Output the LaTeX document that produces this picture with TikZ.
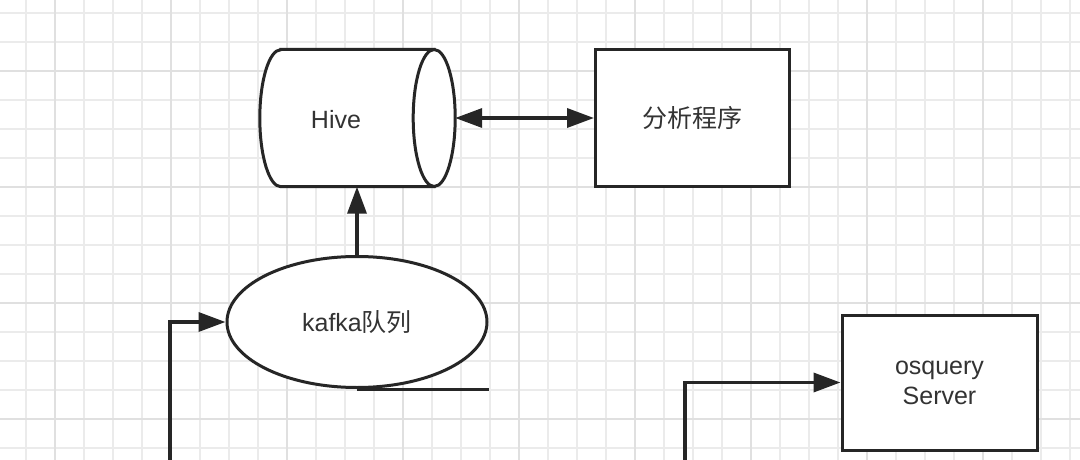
\documentclass[tikz,border=0pt]{standalone}
\usepackage{fontspec}
\setmainfont{Liberation Sans}
\newfontfamily\cjk{Noto Sans CJK SC}
\usepackage{tikz}
\usetikzlibrary{arrows.meta, shapes.geometric, positioning}

\begin{document}
\begin{tikzpicture}[x=1pt, y=-1pt,
    every node/.style={font=\fontsize{25}{30}\selectfont, text=black!80},
    shape line/.style={draw=black!85, line width=3pt, fill=white, inner sep=0pt},
    box/.style={shape line, rectangle, minimum width=194pt, minimum height=136pt},
    arr/.style={draw=black!85, line width=3.5pt, -{Triangle[length=27pt, width=19pt]}},
    darr/.style={draw=black!85, line width=3.5pt, {Triangle[length=27pt, width=19pt]}-{Triangle[length=27pt, width=19pt]}},
    minor/.style={line width=1.2pt, black!8},
    major/.style={line width=1.2pt, black!12}]
    \useasboundingbox (0,0) rectangle (1080,460);
    \fill[white] (0,0) rectangle (1080,460);
    \foreach \i in {0,...,36}
        \draw[minor] ({26+29*\i},0) -- ({26+29*\i},460);
    \foreach \i in {0,...,15}
        \draw[minor] (0,{13+29*\i}) -- (1080,{13+29*\i});
    \foreach \i in {0,...,8}
        \draw[major] ({55+116*\i},0) -- ({55+116*\i},460);
    \foreach \i in {0,...,3}
        \draw[major] (0,{71+116*\i}) -- (1080,{71+116*\i});

    \node[minimum width=195pt, minimum height=137pt, inner sep=0pt] (hive) at (357.5,118) {};
    \draw[shape line] ([xshift=21pt]hive.north west) -- ([xshift=-21pt]hive.north east)
        -- ([xshift=-21pt]hive.south east) -- ([xshift=21pt]hive.south west)
        arc[start angle=90, end angle=270, x radius=21, y radius=68.5] -- cycle;
    \draw[shape line] ([xshift=-21pt]hive.east) ellipse[x radius=21, y radius=68.5];
    \node (hivetext) at (336,120) {Hive};
    \node[box] (prog) at (692.5,118) {\cjk 分析程序};
    \node[shape line, ellipse, minimum width=260pt, minimum height=131pt] (kafka) at (357,322) {kafka{\cjk 队列}};
    \node[box, align=center, minimum width=195pt, minimum height=135pt] (osq) at (939.5,382.5) {osquery\\Server};
    \coordinate (in1) at (170,462);
    \coordinate (in2) at (685,462);

    \draw[darr] (hive) -- (prog);
    \draw[arr] (kafka.north) -- (kafka.north |- hive.south);
    \draw[draw=black!85, line width=3pt] (kafka.south) -- (kafka.south -| kafka.east);
    \draw[arr] (in1) |- (kafka.west);
    \draw[arr] (in2) |- (osq.west);
\end{tikzpicture}
\end{document}
